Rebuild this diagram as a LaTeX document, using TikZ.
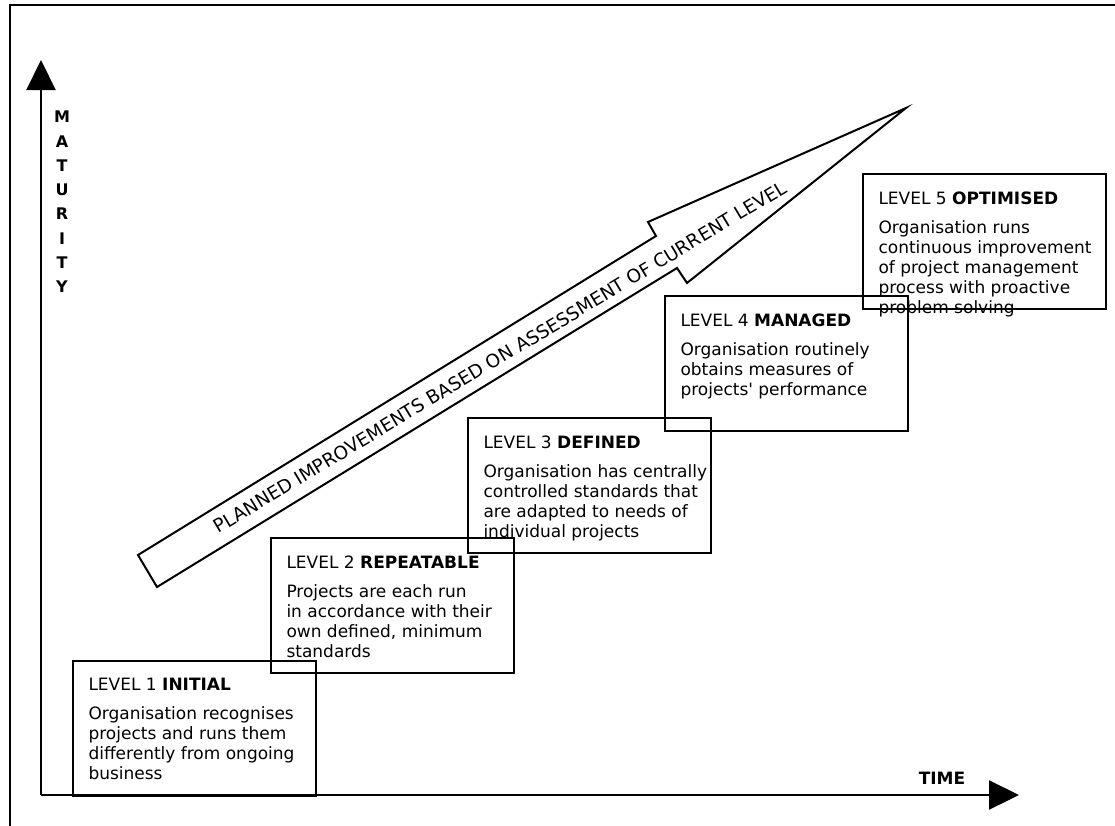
\documentclass[tikz,border=0pt]{standalone}
\usepackage{fontspec}
\setmainfont{DejaVu Sans}
\usetikzlibrary{arrows.meta}

\begin{document}
\begin{tikzpicture}[x=1pt,y=-1pt,
  lvbox/.style={draw,line width=1.2pt,minimum width=243pt,minimum height=135pt,inner sep=0pt,outer sep=0pt,anchor=north west},
  lvtext/.style={anchor=north west,align=left,inner xsep=15.5pt,inner ysep=17.5pt,outer sep=0pt,font=\fontsize{17}{20}\selectfont},
  axis/.style={line width=2.2pt,-{Triangle[length=30pt,width=29pt]}},
  axlabel/.style={inner sep=0pt,font=\fontsize{16}{24.3}\bfseries\selectfont}]
\useasboundingbox (0,0) rectangle (1115,825);
\draw[line width=2.5pt] (10,830) -- (10,5) -- (1120,5); % frame

% axes
\coordinate (orig) at (41,795);
\coordinate (ytip) at (41,60);
\coordinate (xtip) at (1019,795);
\draw[axis] (orig) -- (ytip);
\draw[axis] (orig) -- (xtip);
\node[axlabel,align=center] (mat) at (62,202) {M\\A\\T\\U\\R\\I\\T\\Y};
\node[axlabel,font=\fontsize{17}{17}\bfseries\selectfont] (time) at (942,778) {TIME};

% improvement arrow
\filldraw[fill=white,line width=2pt] (138,555) -- (656,236) -- (648,222) -- (906,108) -- (687,283) -- (677,268) -- (157,587) -- cycle;
\node[rotate=31,inner sep=0pt,font=\fontsize{18.5}{18.5}\selectfont] (plan) at (500,357) {PLANNED IMPROVEMENTS BASED ON ASSESSMENT OF CURRENT LEVEL};

% levels
\node[lvbox] (lv1) at (73,661) {};
\node[lvtext] (tx1) at (lv1.north west) {LEVEL 1 \textbf{INITIAL}\\[9pt]Organisation recognises\\projects and runs them\\differently from ongoing\\business};
\node[lvbox] (lv2) at (271,538) {};
\node[lvtext] (tx2) at (lv2.north west) {LEVEL 2 \textbf{REPEATABLE}\\[9pt]Projects are each run\\in accordance with their\\own defined, minimum\\standards};
\node[lvbox] (lv3) at (468,418) {};
\node[lvtext] (tx3) at (lv3.north west) {LEVEL 3 \textbf{DEFINED}\\[9pt]Organisation has centrally\\controlled standards that\\are adapted to needs of\\individual projects};
\node[lvbox] (lv4) at (665,296) {};
\node[lvtext] (tx4) at (lv4.north west) {LEVEL 4 \textbf{MANAGED}\\[9pt]Organisation routinely\\obtains measures of\\projects\textquotesingle{} performance};
\node[lvbox] (lv5) at (863,174) {};
\node[lvtext] (tx5) at (lv5.north west) {LEVEL 5 \textbf{OPTIMISED}\\[9pt]Organisation runs\\continuous improvement\\of project management\\process with proactive\\problem solving};
\end{tikzpicture}
\end{document}
